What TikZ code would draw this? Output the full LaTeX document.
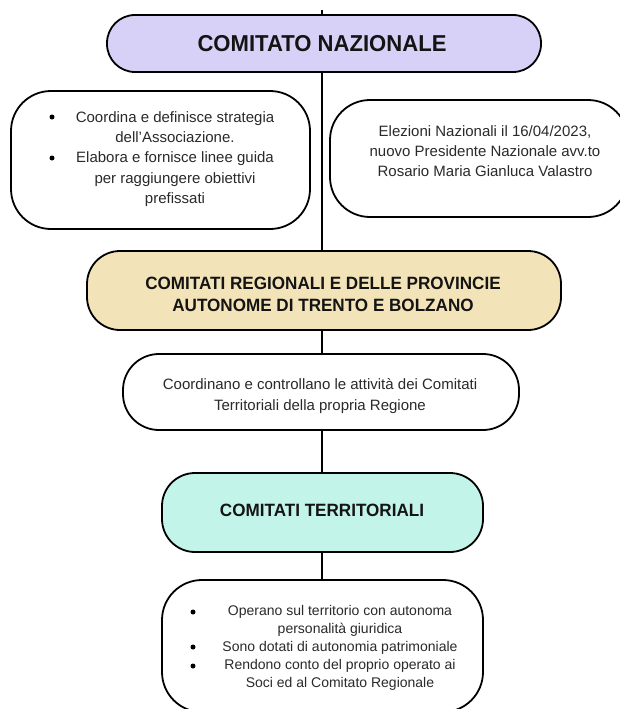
\documentclass[tikz,border=0pt]{standalone}
\usepackage{fontspec}
\setmainfont{Liberation Sans}
\newfontfamily\titlefont[FakeStretch=0.96]{Liberation Sans}
\usetikzlibrary{backgrounds}
\definecolor{natfill}{HTML}{D8D1F7}
\definecolor{regfill}{HTML}{F3E3B8}
\definecolor{terfill}{HTML}{C2F4E9}
\definecolor{bodytext}{HTML}{2A2A2A}
\definecolor{titletext}{HTML}{141414}
\begin{document}
\begin{tikzpicture}[x=1pt,y=-1pt,
  box/.style={draw=black, line width=1.8pt, inner sep=0pt, outer sep=0pt},
  link/.style={draw=black, line width=1.8pt},
  bigtitle/.style={text=titletext, font=\titlefont\bfseries\fontsize{23}{26}\selectfont, inner sep=0pt},
  subtitle/.style={text=titletext, font=\titlefont\bfseries\fontsize{17.8}{22}\selectfont, align=center, inner sep=0pt},
  bodytxt/.style={text=bodytext, font=\fontsize{15}{20.3}\selectfont, align=center, inner sep=0pt},
  smalltxt/.style={text=bodytext, font=\fontsize{14}{18}\selectfont, align=center, inner sep=0pt},
  dot/.style={circle, fill=black, inner sep=0pt, minimum size=5pt}
]
\useasboundingbox (0,0) rectangle (620,709);

% boxes
\node[box, fill=natfill, rounded corners=28pt, minimum width=434pt, minimum height=57pt] (nat) at (324,43.5) {};
\node[box, fill=white, rounded corners=40pt, minimum width=299pt, minimum height=138pt] (left) at (160.5,160) {};
\node[box, fill=white, rounded corners=40pt, minimum width=298pt, minimum height=117pt] (right) at (479,158.5) {};
\node[box, fill=regfill, rounded corners=33pt, minimum width=474pt, minimum height=79pt] (reg) at (324,290.5) {};
\node[box, fill=white, rounded corners=36pt, minimum width=396pt, minimum height=76pt] (mid) at (321,392) {};
\node[box, fill=terfill, rounded corners=33pt, minimum width=321pt, minimum height=79pt] (ter) at (322.5,512.5) {};
\node[box, fill=white, rounded corners=40pt, minimum width=321pt, minimum height=132pt] (bot) at (322.5,646) {};

% texts
\node[bigtitle] (natT) at (322,44) {COMITATO NAZIONALE};
\node[subtitle] (regT) at (323,294) {COMITATI REGIONALI E DELLE PROVINCIE\\AUTONOME DI TRENTO E BOLZANO};
\node[subtitle] (terT) at (322,510) {COMITATI TERRITORIALI};

\node[bodytxt] (leftT) at (175,159) {Coordina e definisce strategia\\dell’Associazione.\\Elabora e fornisce linee guida\\per raggiungere obiettivi\\prefissati};
\node[dot] (lb1) at (52,117) {};
\node[dot] (lb2) at (52,158) {};

\node[bodytxt] (rightT) at (485,151) {Elezioni Nazionali il 16/04/2023,\\nuovo Presidente Nazionale avv.to\\Rosario Maria Gianluca Valastro};

\node[bodytxt] (midT) at (320,396) {Coordinano e controllano le attività dei Comitati\\Territoriali della propria Regione};

\node[smalltxt] (botT) at (340,648) {Operano sul territorio con autonoma\\personalità giuridica\\Sono dotati di autonomia patrimoniale\\Rendono conto del proprio operato ai\\Soci ed al Comitato Regionale};
\node[dot] (bb1) at (193,612) {};
\node[dot] (bb2) at (193,647) {};
\node[dot] (bb3) at (193,666) {};

% connectors
\coordinate (top) at (322,10);
\begin{scope}[on background layer]
\draw[link] (top) -- (top |- nat.north);
\draw[link] (nat.south -| top) -- (reg.north -| top);
\draw[link] (reg.south -| top) -- (mid.north -| top);
\draw[link] (mid.south -| top) -- (ter.north -| top);
\draw[link] (ter.south -| top) -- (bot.north -| top);
\end{scope}
\end{tikzpicture}
\end{document}
